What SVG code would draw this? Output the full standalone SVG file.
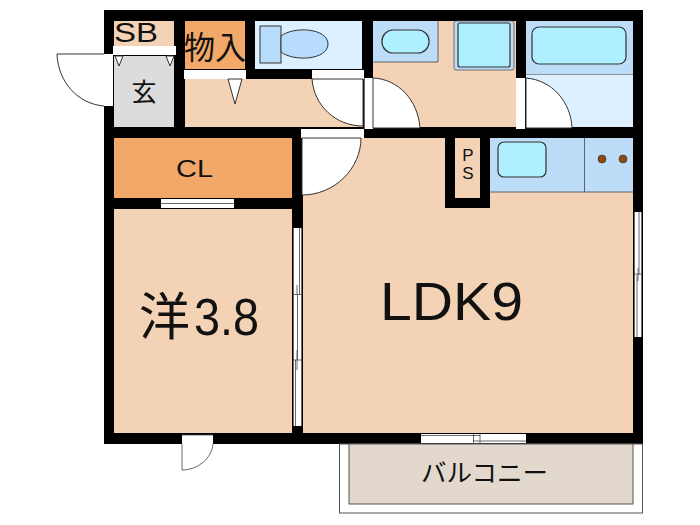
<svg xmlns="http://www.w3.org/2000/svg" width="700" height="525" viewBox="0 0 700 525">
<style>
.t{font-family:"Liberation Sans","Noto Sans CJK JP",sans-serif;fill:#111}
.j{font-family:"Noto Sans CJK JP",sans-serif;fill:#111}
.l{fill:none;stroke:#444;stroke-width:.8}
.d{fill:#fff;stroke:#333;stroke-width:1}
.w{fill:#fff}
.b{fill:#bcdcf8}
.p{fill:#f3d2b6}
.u{fill:#aef0ff;stroke:#333;stroke-width:1.2}
</style>
<rect width="700" height="525" fill="#fff"/>
<g id="walls"><rect x="104" y="10" width="539" height="434" fill="#000"/></g>
<g id="balcony">
<rect x="339.500" y="444" width="303" height="69" fill="#fff" stroke="#555"/>
<rect x="349" y="444" width="284" height="60" fill="#e2d8ce" stroke="#555"/>
<text class="j" x="421" y="482" font-size="25" textLength="127" lengthAdjust="spacingAndGlyphs">バルコニー</text>
</g>
<g id="sb"><rect class="p" x="114" y="21" width="60" height="25"/><text class="t" x="114" y="41.500" font-size="27" textLength="44" lengthAdjust="spacingAndGlyphs">SB</text></g>
<g id="genkan"><rect x="114" y="56" width="60" height="71" fill="#dcdcdc"/>
<rect class="w" x="113" y="46" width="63" height="9"/>
<path class="d" d="M115 56l4 10 4-10zM166 56l4 10 4-10z"/>
<text class="j" x="144" y="101" font-size="25" text-anchor="middle">玄</text></g>
<g id="entry-door"><rect class="w" x="104" y="54" width="9" height="52"/>
<path class="d" d="M104 54H57C58 82 78 104 104 106"/></g>
<g id="storage"><rect x="185" y="21" width="60" height="48" fill="#f2a868"/>
<rect class="w" x="184" y="70" width="62" height="9"/>
<text class="j" x="184" y="59" font-size="32" textLength="62" lengthAdjust="spacingAndGlyphs">物入</text></g>
<g id="toilet"><rect x="255" y="21" width="107" height="48" fill="#dcf0ff"/>
<rect x="260" y="26" width="21" height="37" fill="#b8dcfc" stroke="#333"/>
<path d="M281 36C294 26 328 28 328 44C328 60 294 62 281 52Z" fill="#b8dcfc" stroke="#333"/></g>
<g id="hall"><rect class="p" x="185" y="79" width="178" height="48"/>
<path class="d" d="M228 79l7 25 7-25z"/>
<rect class="w" x="312" y="70" width="52" height="9"/>
<path class="d" d="M312 79H363V126C336 126 314 106 312 79Z"/>
<rect class="w" x="364" y="78" width="9" height="51"/>
<path class="l" d="M364.500 78V129"/></g>
<g id="washroom"><rect class="p" x="373" y="21" width="143" height="106"/>
<rect class="b" x="373" y="21" width="65" height="41"/>
<path class="l" d="M373 62H438V21"/>
<rect class="u" x="382" y="30" width="47" height="23" rx="11"/>
<rect class="b" x="454" y="21" width="60" height="49" rx="2" stroke="#555" stroke-width=".8"/>
<rect class="u" x="458" y="23" width="52" height="44" rx="2"/>
<path class="d" d="M373 78C398 79 418 100 420 128H373Z"/></g>
<g id="bath"><rect x="526" y="21" width="107" height="106" fill="#dcf0ff"/>
<rect class="b" x="526" y="21" width="107" height="53"/>
<path d="M526 74.500H633" stroke="#777" stroke-width=".8"/>
<rect class="u" x="532" y="27" width="94" height="37" rx="7"/>
<rect class="w" x="516" y="78" width="9" height="51"/>
<path class="d" d="M526 78C552 80 571 102 572 128H526Z"/></g>
<g id="cl"><rect x="114" y="138" width="178" height="60" fill="#f2a868"/>
<text class="t" x="176" y="177" font-size="24" textLength="37" lengthAdjust="spacingAndGlyphs">CL</text></g>
<g id="yo"><rect class="p" x="114" y="209" width="178" height="224"/>
<rect class="w" x="161" y="199" width="73" height="9"/>
<path class="l" d="M161 203.500H234"/>
<text class="j" x="139" y="335" font-size="51">洋</text>
<text class="t" x="194" y="335" font-size="51" textLength="65" lengthAdjust="spacingAndGlyphs">3.8</text></g>
<g id="ldk"><rect class="p" x="303" y="138" width="330" height="295"/>
<rect fill="#000" x="445" y="138" width="45" height="70"/>
<rect class="p" x="455" y="138" width="25" height="60"/>
<text class="t" x="468" y="161" font-size="17" text-anchor="middle">P</text>
<text class="t" x="468" y="179" font-size="17" text-anchor="middle">S</text>
<rect class="w" x="301" y="129" width="63" height="9"/>
<path class="d" d="M302 138H361C361 168 335 195 302 195Z"/>
<text class="t" x="380" y="320" font-size="54" textLength="143" lengthAdjust="spacingAndGlyphs">LDK9</text></g>
<g id="kitchen"><rect class="b" x="490" y="138" width="143" height="54"/>
<path class="l" d="M490 192H633M584.500 138V192"/>
<rect class="u" x="498" y="142" width="48" height="35" rx="6"/>
<circle cx="602" cy="159" r="4" fill="#8a4a10" stroke="#333" stroke-width=".6"/>
<circle cx="623" cy="159" r="4" fill="#8a4a10" stroke="#333" stroke-width=".6"/></g>
<g id="openings">
<rect class="w" x="293" y="228" width="9" height="198"/>
<path class="l" d="M293.500 228V426M301.500 228V426M297.500 294V360M299.500 228V294M295.500 360V426M293 294.500H302M293 360H302M297 285V294M297 350V370"/>
<rect class="w" x="634" y="212" width="8" height="125"/>
<path class="l" d="M634.500 212V337M641.500 212V337M639 212V275M637 275V337M634 274H642M638 268V281"/>
<rect class="w" x="421" y="434" width="105" height="9"/>
<path class="l" d="M421 435.500H480M473 441H526M473.500 434V443M480 434V443"/>
<rect class="w" x="182" y="435" width="31" height="9"/>
<path class="l" d="M182 435H213M182 444V470C198 470 212 458 213 444"/>
</g>
</svg>
